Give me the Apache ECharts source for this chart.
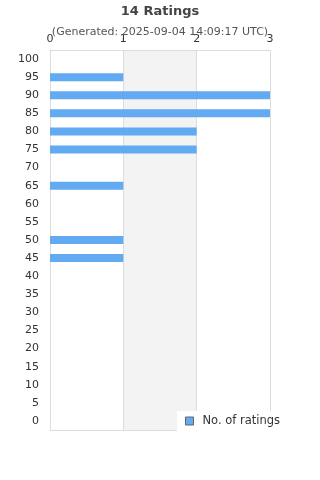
<!DOCTYPE html>
<html>
<head>
<meta charset="utf-8">
<script src="https://cdn.jsdelivr.net/npm/echarts@6/dist/echarts.min.js"></script>
<style>
  html, body { margin: 0; padding: 0; background: #fff; }
  #main { width: 320px; height: 480px; }
</style>
</head>
<body>
<div id="main"></div>
<script>
// rating buckets, top to bottom
let categories = ['100', '95', '90', '85', '80', '75', '70', '65', '60', '55', '50',
    '45', '40', '35', '30', '25', '20', '15', '10', '5', '0'];
let ratingCounts = [0, 1, 3, 3, 2, 2, 0, 1, 0, 0, 1, 1, 0, 0, 0, 0, 0, 0, 0, 0, 0];
let xTicks = [0, 1, 2, 3];

let total = ratingCounts.reduce((a, b) => a + b, 0);

let myChart = echarts.init(document.getElementById('main'));

let options = {
    animation: false,
    title: {
        text: total + ' Ratings',
        subtext: '(Generated: 2025-09-04 14:09:17 UTC)',
        left: 'center',
        top: 0,
        itemGap: 9,
        textStyle: { fontFamily: 'DejaVu Sans', fontSize: 13, fontWeight: 'bold', color: '#444' },
        subtextStyle: { fontFamily: 'DejaVu Sans', fontSize: 11, color: '#555' }
    },
    grid: { left: 50, right: 50, top: 50, bottom: 50 },
    legend: {
        data: ['No. of ratings'],
        left: 177,
        top: 411,
        padding: [4, 12, 8, 8],
        backgroundColor: '#fff',
        itemWidth: 8,
        itemHeight: 8,
        itemGap: 10,
        icon: 'rect',
        itemStyle: { borderColor: '#666', borderWidth: 1 },
        textStyle: { fontFamily: 'DejaVu Sans', fontSize: 11.5, color: '#333', padding: [0, 0, 0, 4] }
    },
    xAxis: [{
        type: 'value',
        position: 'top',
        min: xTicks[0],
        max: xTicks[xTicks.length - 1],
        interval: 1,
        axisLine: { show: true, lineStyle: { color: '#ddd' } },
        axisTick: { show: false },
        axisLabel: { fontFamily: 'DejaVu Sans', fontSize: 11, color: '#333', margin: 5 },
        splitLine: { show: true, lineStyle: { color: '#ddd' } },
        splitArea: { show: true, areaStyle: { color: ['#fff', '#f3f3f3'] } }
    }, {
        type: 'value',
        position: 'bottom',
        min: xTicks[0],
        max: xTicks[xTicks.length - 1],
        interval: 1,
        axisLine: { show: true, lineStyle: { color: '#ddd' } },
        axisTick: { show: false },
        axisLabel: { show: false },
        splitLine: { show: false }
    }],
    yAxis: {
        type: 'category',
        inverse: true,
        data: categories,
        axisLine: { show: true, lineStyle: { color: '#ddd' } },
        axisTick: { show: false },
        axisLabel: { fontFamily: 'DejaVu Sans', fontSize: 11, color: '#333', margin: 11 }
    },
    series: [{
        name: 'No. of ratings',
        type: 'bar',
        data: ratingCounts,
        barWidth: 8,
        itemStyle: { color: '#62aaf2' }
    }]
};

myChart.setOption(options);
</script>
</body>
</html>
